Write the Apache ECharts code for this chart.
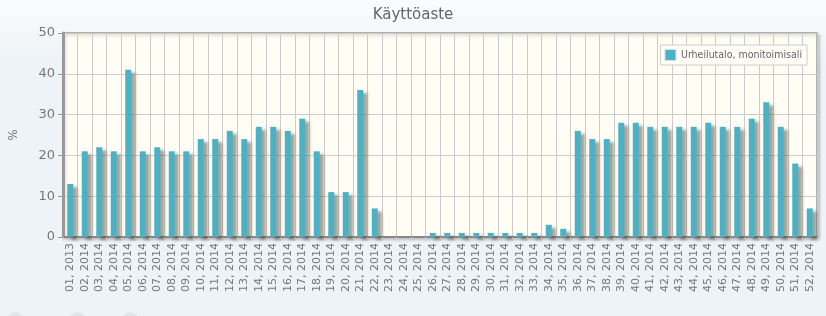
<!DOCTYPE html>
<html><head><meta charset="utf-8">
<script src="https://cdn.jsdelivr.net/npm/echarts@6/dist/echarts.min.js"></script>
<style>html,body{margin:0;padding:0;background:linear-gradient(#fbfcfd 0px,#eef3f7 60px,#eef3f7 316px);}#c{width:826px;height:316px;}</style>
</head><body><div id="c"></div>
<script>
const weeks = ["01, 2013","02, 2014","03, 2014","04, 2014","05, 2014","06, 2014","07, 2014","08, 2014","09, 2014","10, 2014","11, 2014","12, 2014","13, 2014","14, 2014","15, 2014","16, 2014","17, 2014","18, 2014","19, 2014","20, 2014","21, 2014","22, 2014","23, 2014","24, 2014","25, 2014","26, 2014","27, 2014","28, 2014","29, 2014","30, 2014","31, 2014","32, 2014","33, 2014","34, 2014","35, 2014","36, 2014","37, 2014","38, 2014","39, 2014","40, 2014","41, 2014","42, 2014","43, 2014","44, 2014","45, 2014","46, 2014","47, 2014","48, 2014","49, 2014","50, 2014","51, 2014","52, 2014"];
const usage = [13,21,22,21,41,21,22,21,21,24,24,26,24,27,27,26,29,21,11,11,36,7,0,0,0,1,1,1,1,1,1,1,1,3,2,26,24,24,28,28,27,27,27,27,28,27,27,29,33,27,18,7];
const seriesName = "Urheilutalo, monitoimisali";
const chartTitle = "Käyttöaste";

const chart = echarts.init(document.getElementById('c'), null, {renderer:'canvas'});
chart.setOption({
  animation:false,
  backgroundColor:'transparent',
  title:{text:chartTitle,left:'center',top:3,textStyle:{fontFamily:'DejaVu Sans',fontSize:15,fontWeight:'normal',color:'#666'}},
  legend:{show:true,right:19,top:45,orient:'vertical',itemWidth:11,itemHeight:11,itemGap:4,padding:[4,5,4,4],
    borderColor:'#ccc',borderWidth:1,backgroundColor:'#fffdf6',
    textStyle:{fontFamily:'DejaVu Sans Condensed',fontSize:10.5,color:'#666'},
    icon:'rect',data:[{name:seriesName,itemStyle:{borderColor:'#ddd',borderWidth:1}}]},
  grid:{left:59,right:9,top:33,bottom:79,show:true,backgroundColor:'#fffdf4',borderColor:'#999',borderWidth:1.5,
    shadowColor:'rgba(0,0,0,0.2)',shadowBlur:3,shadowOffsetX:2,shadowOffsetY:2},
  xAxis:{type:'category',data:weeks,boundaryGap:true,
    axisLine:{show:true,lineStyle:{color:'#888',width:2}},
    axisTick:{show:true,alignWithLabel:false,length:4,lineStyle:{color:'#ccc'}},
    splitLine:{show:true,interval:0,lineStyle:{color:'#cccccc',width:1}},
    axisLabel:{interval:0,rotate:90,margin:6,fontFamily:'DejaVu Sans',fontSize:11,color:'#777'}},
  yAxis:{type:'value',min:0,max:50,interval:10,name:'%',nameLocation:'middle',nameGap:43,nameRotate:90,
    nameTextStyle:{fontFamily:'DejaVu Sans',fontSize:12,color:'#777'},
    axisLine:{show:true,lineStyle:{color:'#999',width:3}},
    axisTick:{show:true,length:5,lineStyle:{color:'#999'}},
    splitLine:{show:true,lineStyle:{color:'#cccccc',width:1}},
    axisLabel:{fontFamily:'DejaVu Sans',fontSize:13,color:'#777',margin:8}},
  series:[{type:'bar',name:seriesName,data:usage,barWidth:6,
    itemStyle:{color:'#4bb2c5',shadowColor:'rgba(70,70,60,0.5)',shadowBlur:3,shadowOffsetX:4,shadowOffsetY:3}}],
  graphic:[
    {type:'circle',shape:{cx:15,cy:321,r:9},style:{fill:'#e2e6ea'}},
    {type:'circle',shape:{cx:77,cy:321,r:9},style:{fill:'#e2e6ea'}},
    {type:'circle',shape:{cx:130,cy:321,r:9},style:{fill:'#e2e6ea'}}
  ]
});
</script></body></html>
